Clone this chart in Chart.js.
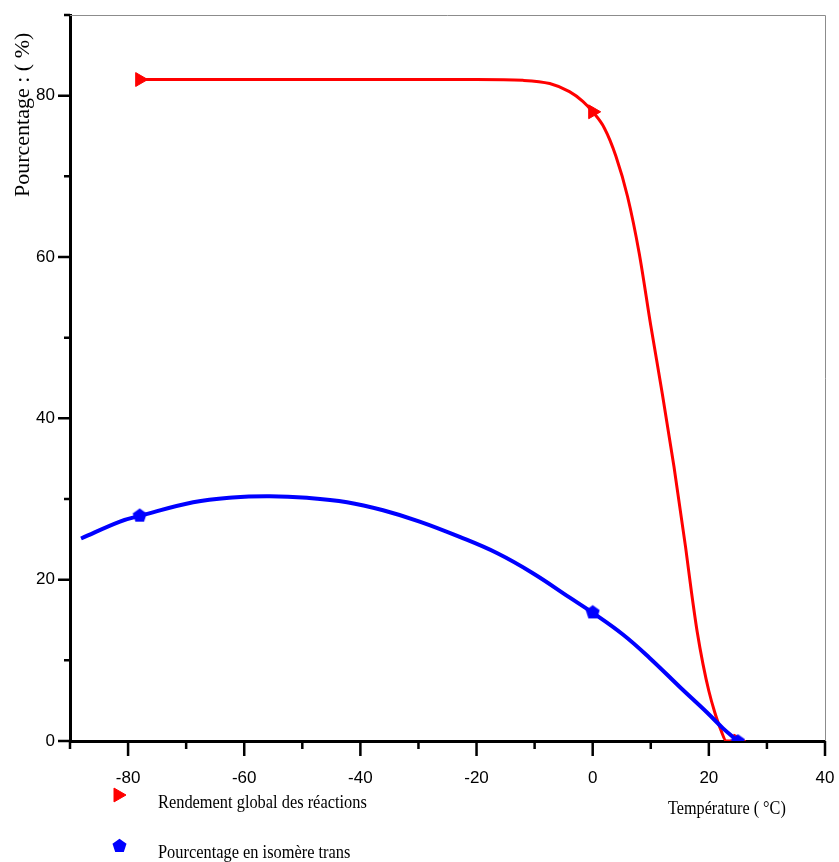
<!DOCTYPE html>
<html>
<head>
<meta charset="utf-8">
<script src="https://cdn.jsdelivr.net/npm/chart.js@4.4.0/dist/chart.umd.min.js"></script>
<style>
  body { margin: 0; background: #fff; }
  #wrap { width: 839px; height: 862px; }
</style>
</head>
<body>
<div id="wrap"><canvas id="chart" width="839" height="862"></canvas></div>
<script>
// markers (measured points)
const markerTemps = [-78, 0, 25];
const rendementPts = [82, 78, 0];
const transPts = [28, 16, 0];

// red curve (rendement global)
const rendementCurveX = [-78, -60, -40, -20, -12, -7.4, -4, -1.7, 0, 2, 4, 6, 8, 10, 12, 14, 16, 17, 18, 19, 20, 21, 22, 23, 25];
const rendementCurveY = [82, 82, 82, 82, 81.9, 81.5, 80.5, 79.3, 78, 76, 72.5, 67.5, 60.5, 51.5, 43, 34, 24, 18.5, 13.5, 9.5, 6.2, 3.6, 1.5, 0, 0];

// blue curve (isomère trans)
const transCurveX = [-88.1, -81.4, -78, -68.8, -62, -55.6, -49.2, -42.3, -36.1, -29.8, -22.9, -16.5, -10.3, -4, 0, 5.2, 9.8, 15, 19.6, 22.4, 24.8];
const transCurveY = [25.1, 27.2, 27.9, 29.6, 30.2, 30.35, 30.15, 29.6, 28.6, 27.2, 25.3, 23.3, 20.8, 17.8, 15.9, 13.2, 10.3, 6.7, 3.6, 1.6, 0.1];

const xTicksMin = -90, xTicksMax = 40;
const yTicksMin = 0, yTicksMax = 90;

const toPts = (xs, ys) => xs.map((v, i) => ({ x: v, y: ys[i] }));

// pentagon marker as a small canvas
function pentagon(size, color) {
  const c = document.createElement('canvas');
  c.width = size; c.height = size;
  const g = c.getContext('2d');
  const r = size / 2;
  g.fillStyle = color;
  g.beginPath();
  for (let i = 0; i < 5; i++) {
    const a = -Math.PI / 2 + i * 2 * Math.PI / 5;
    const px = r + Math.cos(a) * r * 0.98, py = r + 0.6 + Math.sin(a) * r * 0.98;
    i ? g.lineTo(px, py) : g.moveTo(px, py);
  }
  g.closePath();
  g.fill();
  return c;
}
const bluePenta = pentagon(15, '#0000ff');

function squeezeText(ctx, text, x, y, sx) {
  ctx.save();
  ctx.translate(x, y);
  ctx.scale(sx, 1);
  ctx.fillText(text, 0, 0);
  ctx.restore();
}

const deco = {
  id: 'deco',
  beforeDatasetsDraw(chart) {
    const { ctx, chartArea: a, scales: { x, y } } = chart;
    ctx.save();
    ctx.strokeStyle = '#8c8c8c';
    ctx.lineWidth = 1;
    ctx.beginPath();
    ctx.moveTo(a.left, a.top + 0.5);
    ctx.lineTo(a.right + 0.5, a.top + 0.5);
    ctx.lineTo(a.right + 0.5, a.bottom);
    ctx.stroke();

    ctx.strokeStyle = '#000';
    ctx.lineWidth = 2.5;
    ctx.beginPath();
    x.ticks.forEach(t => {
      const px = x.getPixelForValue(t.value);
      const len = t.value % 20 === 0 ? 15 : 8;
      ctx.moveTo(px, a.bottom); ctx.lineTo(px, a.bottom + len);
    });
    y.ticks.forEach(t => {
      const py = y.getPixelForValue(t.value);
      const len = t.value % 20 === 0 ? 12 : 6;
      ctx.moveTo(a.left, py); ctx.lineTo(a.left - len, py);
    });
    ctx.stroke();
    ctx.restore();
  },
  afterDraw(chart) {
    const { ctx } = chart;
    ctx.save();
    ctx.fillStyle = '#000';
    ctx.textBaseline = 'alphabetic';

    // y title
    ctx.save();
    ctx.translate(29, 197);
    ctx.rotate(-Math.PI / 2);
    ctx.font = '22px "Liberation Serif", "Times New Roman", serif';
    ctx.fillText('Pourcentage : ( %)', 0, 0);
    ctx.restore();

    // x title
    ctx.font = '18px "Liberation Serif", "Times New Roman", serif';
    squeezeText(ctx, 'Température ( °C)', 668, 814, 0.9);

    // legend
    const ds = chart.data.datasets;
    ctx.fillStyle = '#ff0000';
    ctx.strokeStyle = '#ff0000';
    Chart.helpers.drawPoint(ctx, { pointStyle: 'triangle', radius: 8, rotation: 90, borderWidth: 1 }, 118, 795);
    ctx.drawImage(bluePenta, 112, 838);
    ctx.fillStyle = '#000';
    squeezeText(ctx, ds[0].label, 158, 808, 0.91);
    squeezeText(ctx, ds[2].label, 158, 858, 0.91);
    ctx.restore();
  }
};

new Chart(document.getElementById('chart'), {
  type: 'line',
  data: {
    datasets: [
      {
        label: 'Rendement global des réactions',
        data: toPts(markerTemps, rendementPts),
        showLine: false,
        pointStyle: 'triangle',
        rotation: 90,
        pointRadius: 8,
        backgroundColor: '#ff0000',
        borderColor: '#ff0000',
        order: 2
      },
      {
        label: 'rendement courbe',
        data: toPts(rendementCurveX, rendementCurveY),
        borderColor: '#ff0000',
        borderWidth: 3,
        pointRadius: 0,
        cubicInterpolationMode: 'monotone',
        order: 3
      },
      {
        label: 'Pourcentage en isomère trans',
        data: toPts(markerTemps, transPts),
        showLine: false,
        pointStyle: bluePenta,
        backgroundColor: '#0000ff',
        borderColor: '#0000ff',
        order: 0
      },
      {
        label: 'trans courbe',
        data: toPts(transCurveX, transCurveY),
        borderColor: '#0000ff',
        borderWidth: 4,
        pointRadius: 0,
        tension: 0.4,
        order: 1
      }
    ]
  },
  options: {
    responsive: false,
    animation: false,
    layout: { padding: { top: 15, right: 14, left: 0, bottom: 0 } },
    plugins: { legend: { display: false }, tooltip: { enabled: false } },
    scales: {
      x: {
        type: 'linear',
        min: xTicksMin,
        max: xTicksMax,
        afterFit: s => { s.height = 121; s.paddingLeft = 0; s.paddingRight = 0; },
        grid: { drawOnChartArea: false, drawTicks: false },
        border: { color: '#000', width: 3 },
        ticks: {
          stepSize: 10,
          autoSkip: false,
          maxRotation: 0,
          padding: 27,
          color: '#000',
          font: { family: '"Liberation Sans", Arial, sans-serif', size: 17 },
          callback: v => (v % 20 === 0 ? String(v) : '')
        }
      },
      y: {
        min: yTicksMin,
        max: yTicksMax,
        afterFit: s => { s.width = 70; s.paddingTop = 0; s.paddingBottom = 0; },
        grid: { drawOnChartArea: false, drawTicks: false },
        border: { color: '#000', width: 3 },
        ticks: {
          stepSize: 10,
          autoSkip: false,
          padding: 15,
          color: '#000',
          font: { family: '"Liberation Sans", Arial, sans-serif', size: 17 },
          callback: v => (v % 20 === 0 ? String(v) : '')
        }
      }
    }
  },
  plugins: [deco]
});
</script>
</body>
</html>
